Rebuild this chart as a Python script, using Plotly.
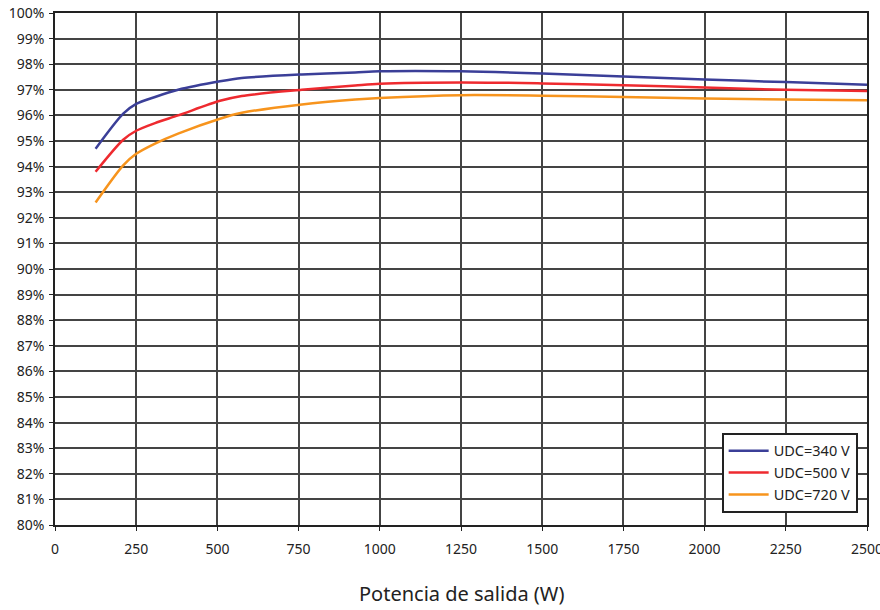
import plotly.graph_objects as go

power = [125, 210, 250, 308, 379, 508, 575, 760, 924, 1000, 1250, 1500, 1750, 2000, 2250, 2500]
eff_340 = [94.7, 96.07, 96.45, 96.72, 97.0, 97.33, 97.46, 97.6, 97.68, 97.72, 97.72, 97.64, 97.52, 97.4, 97.3, 97.2]
eff_500 = [93.8, 95.05, 95.4, 95.7, 96.0, 96.57, 96.76, 97.0, 97.17, 97.24, 97.29, 97.25, 97.18, 97.09, 97.0, 96.95]
eff_720 = [92.6, 94.05, 94.5, 94.9, 95.29, 95.87, 96.1, 96.43, 96.62, 96.68, 96.79, 96.77, 96.72, 96.66, 96.62, 96.59]
series_names = ["UDC=340 V", "UDC=500 V", "UDC=720 V"]
x_ticks = [0, 250, 500, 750, 1000, 1250, 1500, 1750, 2000, 2250, 2500]
y_ticks = list(range(80, 101))

colors = ["#3b3f98", "#ee2a2f", "#f7941d"]

fig = go.Figure()
for name, ys, c in zip(series_names, [eff_340, eff_500, eff_720], colors):
    fig.add_trace(go.Scatter(x=power, y=ys, name=name, mode="lines",
                             line=dict(color=c, width=2.5, shape="spline", smoothing=0.8)))

fig.update_layout(
    width=880, height=610,
    margin=dict(l=55, r=13, t=13, b=85),
    paper_bgcolor="white", plot_bgcolor="white",
    font=dict(family="Noto Sans, Open Sans, sans-serif", size=14, color="#222"),
    showlegend=True,
    legend=dict(x=0.821, y=0.18, xanchor="left", yanchor="top",
                bgcolor="white", bordercolor="#222", borderwidth=2,
                font=dict(size=14.5), tracegroupgap=0, itemwidth=40),
    xaxis=dict(range=[0, 2500], tickvals=x_ticks, ticktext=[str(v) for v in x_ticks],
               showgrid=True, gridcolor="#444", gridwidth=1.5,
               showline=True, linecolor="#222", linewidth=1.5, mirror=True,
               ticks="outside", ticklen=4, tickcolor="#222", ticklabelstandoff=6,
               zeroline=False, automargin=False, ticklabeloverflow="allow"),
    yaxis=dict(range=[80, 100], tickvals=y_ticks, ticktext=[f"{v}%" for v in y_ticks],
               showgrid=True, gridcolor="#444", gridwidth=1.5,
               showline=True, linecolor="#222", linewidth=1.5, mirror=True,
               ticks="outside", ticklen=4, tickcolor="#222", ticklabelstandoff=2,
               zeroline=False, automargin=False, ticklabeloverflow="allow"),
    annotations=[dict(text="Potencia de salida (W)", x=0.5, y=-0.133,
                      xref="paper", yref="paper", xanchor="center", yanchor="middle",
                      showarrow=False, font=dict(size=20))],
)

fig.write_html("out.html", config={"displayModeBar": False},
               post_script="document.body.style.margin='0';")
